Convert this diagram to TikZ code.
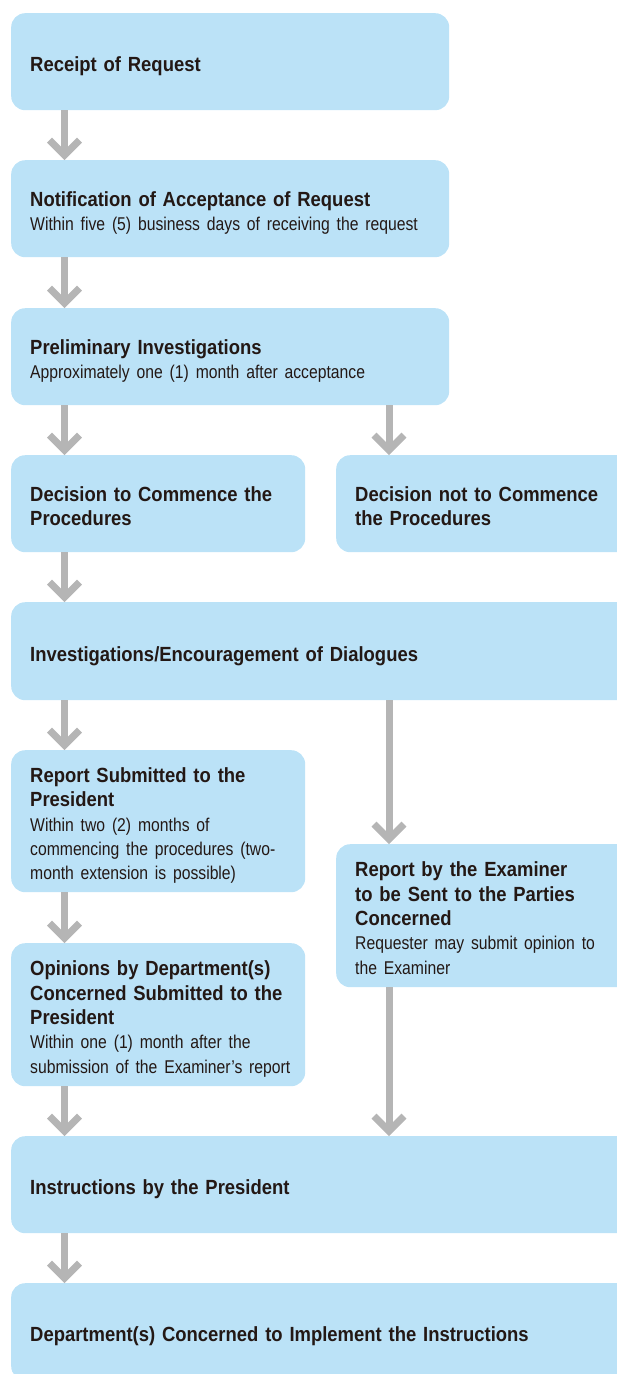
\documentclass[tikz,border=0pt]{standalone}
\usepackage{fontspec}
\usetikzlibrary{arrows.meta}
\newfontfamily\ttlfont[FakeStretch=0.90,WordSpace=0.8]{Liberation Sans}
\newfontfamily\subfont[FakeStretch=0.85,WordSpace=0.65]{Liberation Sans}
\definecolor{boxblue}{RGB}{187,226,247}
\definecolor{ink}{RGB}{35,24,21}
\definecolor{arrowgray}{RGB}{181,181,181}
\newcommand\subtxt[1]{{\subfont\mdseries\fontsize{18.5}{24.4}\selectfont #1}}
\tikzset{
  box/.style={fill=boxblue, draw=none, rounded corners=14pt, anchor=north west, inner sep=0pt},
  txt/.style={anchor=base west, inner sep=0pt, text width=560pt, align=left, text=ink,
    font=\ttlfont\fontsize{20.5}{24.4}\selectfont\bfseries},
  arr/.style={draw=arrowgray, line width=7pt, -{Straight Barb[length=15pt,width=30pt,sharp]}}
}
\begin{document}
\begin{tikzpicture}[x=1pt,y=-1pt]
\useasboundingbox (0,0) rectangle (617,1374);
\clip (0,0) rectangle (617,1374);
\coordinate (L) at (64.5,0);
\coordinate (R) at (389,0);
% boxes
\node[box, minimum width=438, minimum height=97] (b1) at (11,13) {};
\node[box, minimum width=438, minimum height=97] (b2) at (11,160) {};
\node[box, minimum width=438, minimum height=97] (b3) at (11,308) {};
\node[box, minimum width=294, minimum height=97] (b4) at (11,455) {};
\node[box, minimum width=304, minimum height=97] (b5) at (336,455) {};
\node[box, minimum width=629, minimum height=98] (b6) at (11,602) {};
\node[box, minimum width=294, minimum height=142] (b7) at (11,750) {};
\node[box, minimum width=304, minimum height=143] (b8) at (336,844) {};
\node[box, minimum width=294, minimum height=143] (b9) at (11,943) {};
\node[box, minimum width=629, minimum height=97] (b10) at (11,1136) {};
\node[box, minimum width=629, minimum height=97] (b11) at (11,1283) {};
% texts
\node[txt] (t1) at (30,71.5) {Receipt of Request};
\node[txt] (t2) at (30,206.3) {Notification of Acceptance of Request\\
  \subtxt{Within five (5) business days of receiving the request}};
\node[txt] (t3) at (30,354.3) {Preliminary Investigations\\
  \subtxt{Approximately one (1) month after acceptance}};
\node[txt] (t4) at (30,501.3) {Decision to Commence the\\Procedures};
\node[txt] (t5) at (355,501.3) {Decision not to Commence\\the Procedures};
\node[txt] (t6) at (30,661) {Investigations/Encouragement of Dialogues};
\node[txt] (t7) at (30,782.2) {Report Submitted to the\\President\\
  \subtxt{Within two (2) months of}\\
  \subtxt{commencing the procedures (two-}\\
  \subtxt{month extension is possible)}};
\node[txt] (t8) at (355,876.7) {Report by the Examiner\\to be Sent to the Parties\\Concerned\\
  \subtxt{Requester may submit opinion to}\\
  \subtxt{the Examiner}};
\node[txt] (t9) at (30,975.7) {Opinions by Department(s)\\Concerned Submitted to the\\President\\
  \subtxt{Within one (1) month after the}\\
  \subtxt{submission of the Examiner’s report}};
\node[txt] (t10) at (30,1194.5) {Instructions by the President};
\node[txt] (t11) at (30,1341.5) {Department(s) Concerned to Implement the Instructions};
% connectors
\draw[arr] (b1.south -| L) -- (b2.north -| L);
\draw[arr] (b2.south -| L) -- (b3.north -| L);
\draw[arr] (b3.south -| L) -- (b4.north -| L);
\draw[arr] (b3.south -| R) -- (b5.north -| R);
\draw[arr] (b4.south -| L) -- (b6.north -| L);
\draw[arr] (b6.south -| L) -- (b7.north -| L);
\draw[arr] (b6.south -| R) -- (b8.north -| R);
\draw[arr] (b7.south -| L) -- (b9.north -| L);
\draw[arr] (b9.south -| L) -- (b10.north -| L);
\draw[arr] (b8.south -| R) -- (b10.north -| R);
\draw[arr] (b10.south -| L) -- (b11.north -| L);
\end{tikzpicture}
\end{document}
